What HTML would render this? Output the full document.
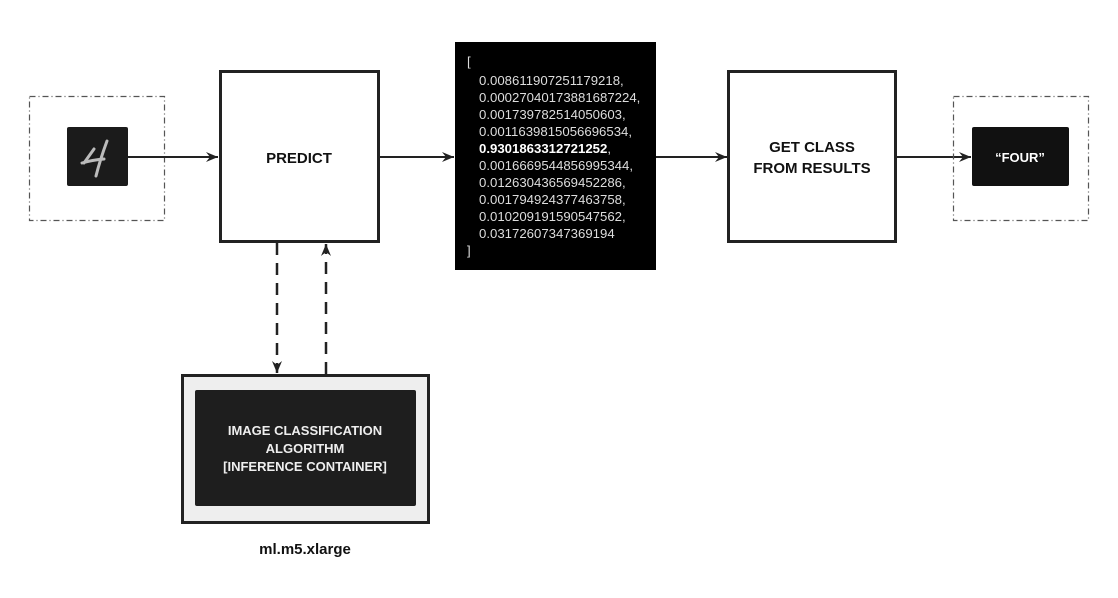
<!DOCTYPE html>
<html><head><meta charset="utf-8"><style>
html,body{margin:0;padding:0;background:#fff;}
svg{display:block;}
text{font-family:"Liberation Sans",sans-serif;}
</style></head><body>
<svg width="1118" height="598" viewBox="0 0 1118 598" xmlns="http://www.w3.org/2000/svg">
<defs>
<marker id="ah" markerWidth="14" markerHeight="12" refX="13" refY="6" orient="auto" markerUnits="userSpaceOnUse">
<path d="M1,1 L13,6 L1,11 L5,6 Z" fill="#222"/>
</marker>
</defs>
<rect width="1118" height="598" fill="#fff"/>
<rect x="29.5" y="96.5" width="135" height="124" fill="none" stroke="#555" stroke-width="1.2" stroke-dasharray="6,3,1,3"/>
<rect x="67" y="127" width="61" height="59" rx="2" fill="#1b1b1b"/>
<path d="M84,163 L94,149 M82,163 Q92,160 104,159 M107,141 Q100,160 96,176" stroke="#bbb" stroke-width="3" fill="none" stroke-linecap="round"/>
<line x1="128" y1="157" x2="218" y2="157" stroke="#222" stroke-width="2" marker-end="url(#ah)"/>
<rect x="220.5" y="71.5" width="158" height="170" fill="#fff" stroke="#222" stroke-width="3"/>
<text x="299" y="163" font-size="15" font-weight="bold" text-anchor="middle" fill="#111">PREDICT</text>
<line x1="380" y1="157" x2="454" y2="157" stroke="#222" stroke-width="2" marker-end="url(#ah)"/>
<rect x="455" y="42" width="201" height="228" fill="#000"/>
<g font-size="13.2" fill="#ddd">
<text x="467" y="66">[</text>
<text x="479" y="85">0.008611907251179218,</text>
<text x="479" y="102">0.00027040173881687224,</text>
<text x="479" y="119">0.001739782514050603,</text>
<text x="479" y="136">0.0011639815056696534,</text>
<text x="479" y="153"><tspan font-weight="bold" fill="#fff">0.9301863312721252</tspan>,</text>
<text x="479" y="170">0.0016669544856995344,</text>
<text x="479" y="187">0.012630436569452286,</text>
<text x="479" y="204">0.001794924377463758,</text>
<text x="479" y="221">0.010209191590547562,</text>
<text x="479" y="238">0.03172607347369194</text>
<text x="467" y="255">]</text>
</g>
<line x1="656" y1="157" x2="727" y2="157" stroke="#222" stroke-width="2" marker-end="url(#ah)"/>
<rect x="728.5" y="71.5" width="167" height="170" fill="#fff" stroke="#222" stroke-width="3"/>
<text x="812" y="152" font-size="15" font-weight="bold" text-anchor="middle" fill="#111">GET CLASS</text>
<text x="812" y="173" font-size="15" font-weight="bold" text-anchor="middle" fill="#111">FROM RESULTS</text>
<line x1="897" y1="157" x2="971" y2="157" stroke="#222" stroke-width="2" marker-end="url(#ah)"/>
<rect x="953.5" y="96.5" width="135" height="124" fill="none" stroke="#555" stroke-width="1.2" stroke-dasharray="6,3,1,3"/>
<rect x="972" y="127" width="97" height="59" rx="2" fill="#111"/>
<text x="1020" y="162" font-size="13" font-weight="bold" text-anchor="middle" fill="#fff">“FOUR”</text>
<line x1="277" y1="243" x2="277" y2="373" stroke="#222" stroke-width="2.5" stroke-dasharray="12,8" marker-end="url(#ah)"/>
<line x1="326" y1="374" x2="326" y2="244" stroke="#222" stroke-width="2.5" stroke-dasharray="12,8" marker-end="url(#ah)"/>
<rect x="182.5" y="375.5" width="246" height="147" fill="#eee" stroke="#222" stroke-width="3"/>
<rect x="195" y="390" width="221" height="116" rx="2" fill="#1e1e1e"/>
<g font-size="13" font-weight="bold" fill="#eee" text-anchor="middle">
<text x="305" y="435">IMAGE CLASSIFICATION</text>
<text x="305" y="453">ALGORITHM</text>
<text x="305" y="471">[INFERENCE CONTAINER]</text>
</g>
<text x="305" y="554" font-size="15" font-weight="bold" text-anchor="middle" fill="#111">ml.m5.xlarge</text>
</svg>
</body></html>
